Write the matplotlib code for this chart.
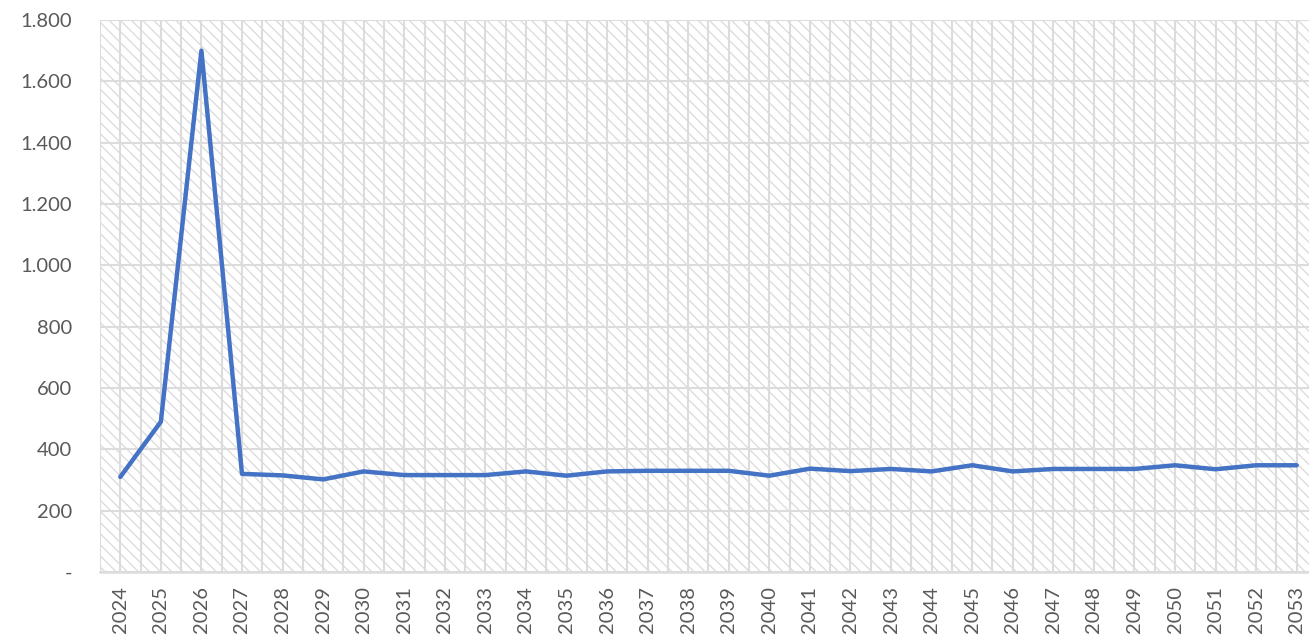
import matplotlib
matplotlib.use('Agg')
import matplotlib.pyplot as plt
from matplotlib.patches import Rectangle
from matplotlib.ticker import FuncFormatter, MultipleLocator

anos = [str(a) for a in range(2024, 2054)]
valores = [310, 490, 1700, 320, 315, 302, 328, 316, 316, 316,
           328, 314, 328, 330, 330, 330, 314, 337, 329, 336,
           328, 348, 328, 336, 336, 336, 348, 335, 348, 348]

AZUL = '#4472C4'
CINZA_TEXTO = '#595959'
CINZA_GRADE = '#dcdcdc'
CINZA_HACHURA = '#dadada'

plt.rcParams['font.family'] = ['Lato', 'DejaVu Sans']
plt.rcParams['hatch.linewidth'] = 0.9

fig = plt.figure(figsize=(13.09, 6.43), dpi=100)
ax = fig.add_axes([100 / 1309, 71 / 643, 1217 / 1309, 552 / 643])

x = list(range(len(anos)))

# fundo hachurado da área de plotagem
ax.add_patch(Rectangle((0, 0), 1, 1, transform=ax.transAxes, facecolor='white',
                       edgecolor=CINZA_HACHURA, linewidth=0, hatch='\\\\\\',
                       zorder=0.5))

ax.plot(x, valores, color=AZUL, linewidth=3.2, solid_joinstyle='round',
        solid_capstyle='round', zorder=3)

ax.set_xlim(-0.5, len(anos) - 0.5)
ax.set_ylim(0, 1800)
ax.yaxis.set_major_locator(MultipleLocator(200))
ax.yaxis.set_major_formatter(FuncFormatter(
    lambda v, _: '-' if v == 0 else f'{int(v):,}'.replace(',', '.')))

ax.set_xticks(x)
ax.set_xticklabels(anos, rotation=90)
ax.set_xticks([i - 0.5 for i in range(len(anos) + 1)], minor=True)

ax.grid(axis='y', which='major', color=CINZA_GRADE, linewidth=1.5, zorder=1)
ax.grid(axis='x', which='both', color=CINZA_GRADE, linewidth=1.5, zorder=1)
ax.set_axisbelow(True)

for lado in ['top', 'right', 'left']:
    ax.spines[lado].set_visible(False)
ax.spines['bottom'].set_color(CINZA_GRADE)
ax.spines['bottom'].set_linewidth(1.8)

ax.tick_params(axis='both', which='both', length=0, colors=CINZA_TEXTO,
               labelsize=14.5)
ax.tick_params(axis='x', pad=10)
ax.tick_params(axis='y', pad=20)

fig.savefig('out.png', dpi=100)
